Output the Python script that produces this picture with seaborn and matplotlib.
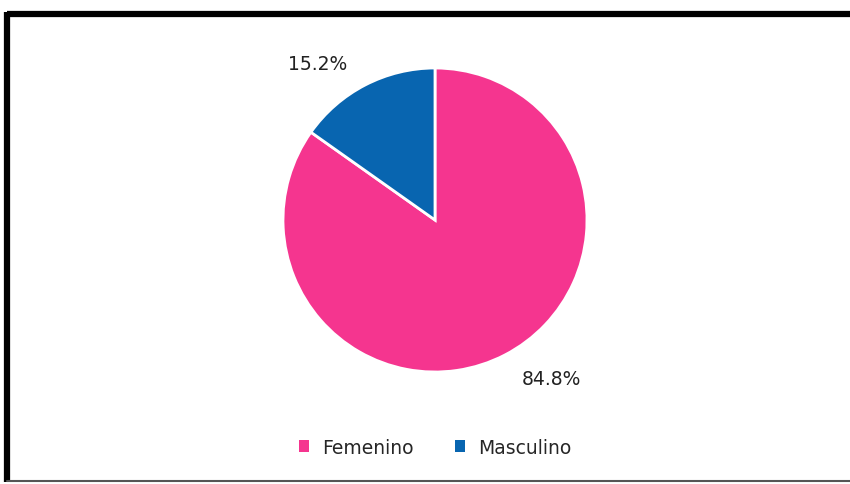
import matplotlib
matplotlib.use("Agg")
import matplotlib.pyplot as plt
import seaborn as sns
from matplotlib.lines import Line2D
from matplotlib.patches import Patch

# Data
categories = ['Femenino', 'Masculino']
percentages = [84.8, 15.2]
colors = ['#F5358F', '#0865B0']

sns.set_theme(style="white")
plt.rcParams['font.family'] = ['DejaVu Sans']

fig = plt.figure(figsize=(8.5, 4.85), dpi=100)

# Frame around the chart area (thick top/left, thin bottom)
fig.add_artist(Line2D([7 / 850, 1.0], [1 - 15 / 485] * 2, transform=fig.transFigure,
                      color='black', lw=4.5, solid_capstyle='butt'))
fig.add_artist(Line2D([7 / 850] * 2, [1 - 13 / 485, 2 / 485], transform=fig.transFigure,
                      color='black', lw=4.5, solid_capstyle='butt'))
fig.add_artist(Line2D([7 / 850, 1.0], [3 / 485] * 2, transform=fig.transFigure,
                      color='#555555', lw=1.5))

# Pie: center ~ (435, 221), radius ~152 px
r = 152
cx, cy = 435, 221
ax = fig.add_axes([(cx - r) / 850, 1 - (cy + r) / 485, 2 * r / 850, 2 * r / 485])
wedges, _ = ax.pie(percentages, colors=colors, startangle=90, counterclock=False,
                   wedgeprops=dict(edgecolor='white', linewidth=2))
ax.set_aspect('auto')
ax.set_xlim(-1, 1)
ax.set_ylim(-1, 1)

# Percentage labels
fig.text(318 / 850, 1 - 64 / 485, f"{percentages[1]:.1f}%", ha='center', va='center',
         fontsize=13.5, color='#222222')
fig.text(551 / 850, 1 - 380 / 485, f"{percentages[0]:.1f}%", ha='center', va='center',
         fontsize=13.5, color='#222222')

# Legend
handles = [Patch(facecolor=c, edgecolor='none') for c in colors]
fig.legend(handles, categories, loc='center', bbox_to_anchor=(435 / 850, 1 - 448 / 485),
           ncol=2, frameon=False, fontsize=13.5, handlelength=0.55, handleheight=0.55,
           handletextpad=0.7, columnspacing=2.2)

fig.savefig('out.png', dpi=100)
